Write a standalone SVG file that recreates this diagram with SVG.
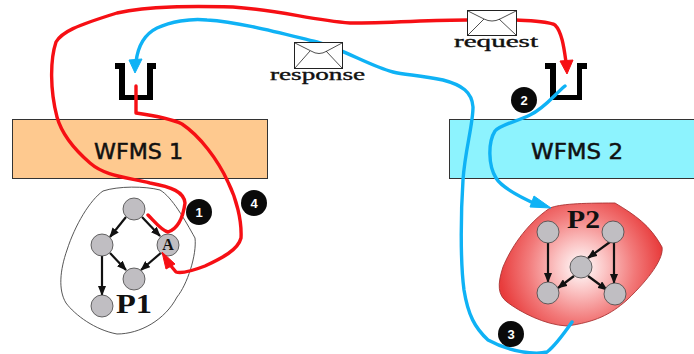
<svg xmlns="http://www.w3.org/2000/svg" width="694" height="354" viewBox="0 0 694 354">
<style>
.box{stroke:#333;stroke-width:1}
.lbl{font-family:"DejaVu Sans",sans-serif;font-size:21px;fill:#111;stroke:#111;stroke-width:.5}
.mono{font-family:"Liberation Serif",serif;fill:#111}
.thin{stroke:#111;stroke-width:.35}
.node{fill:#c0bec2;stroke:#444;stroke-width:.8}
.edge{fill:none;stroke:#111;stroke-width:2.2;marker-end:url(#ah)}
.red{fill:none;stroke:#f60f14;stroke-width:3.4;stroke-linejoin:round;stroke-linecap:round}
.blue{fill:none;stroke:#0fb2f5;stroke-width:3.4;stroke-linejoin:round;stroke-linecap:round}
.env{fill:#fff;stroke:#222;stroke-width:1}
.flap{fill:none;stroke:#222;stroke-width:.8}
.badge{fill:#0a0a0a}
.num{font-family:"Liberation Sans",sans-serif;font-size:13px;font-weight:bold;fill:#fff;text-anchor:middle}
.bucket{fill:#000}
</style>
<defs>
<marker id="ah" viewBox="0 0 10 8" refX="9" refY="4" markerWidth="10" markerHeight="8" markerUnits="userSpaceOnUse" orient="auto"><path d="M0 0L10 4L0 8z" fill="#111"/></marker>
<radialGradient id="p2g" gradientUnits="userSpaceOnUse" cx="581" cy="267" r="82"><stop offset="0" stop-color="#fff"/><stop offset=".3" stop-color="#fbc4c4"/><stop offset=".65" stop-color="#f27a7a"/><stop offset="1" stop-color="#e83c3c"/></radialGradient>
</defs>
<rect width="694" height="354" fill="#fff"/>

<g id="wfms1"><rect class="box" x="12.500" y="119.500" width="255" height="59" fill="#fec98f"/><text class="lbl" x="94" y="159" textLength="89" lengthAdjust="spacingAndGlyphs">WFMS 1</text></g>
<g id="wfms2"><rect class="box" x="449.500" y="119.500" width="245" height="59" fill="#8df3fe"/><text class="lbl" x="531" y="159" textLength="92" lengthAdjust="spacingAndGlyphs">WFMS 2</text></g>

<g id="queue1"><path class="bucket" d="M115 63H125V95H147V63H156V69H153V100H119V69H115Z"/></g>
<g id="queue2"><path class="bucket" d="M545 63H556V95H577V63H587V69H582V100H550V69H545Z"/></g>

<g id="p1">
<path d="M103 191C118 186 145 186 160 190C172 197 185 220 195 238C197 255 187 285 177 297C165 320 140 334 117 334C95 330 75 315 66 303C58 290 60 270 67 250C75 225 90 200 103 191Z" fill="#fff" stroke="#444" stroke-width=".9"/>
<path class="edge" d="M126 217L110 237"/><path class="edge" d="M142 217L160 236"/><path class="edge" d="M110 253L126 270"/><path class="edge" d="M162 252L141 270"/><path class="edge" d="M102 256V295"/>
<circle class="node" cx="134" cy="209" r="11"/><circle class="node" cx="102" cy="245" r="11"/><circle class="node" cx="168" cy="245" r="11"/><circle class="node" cx="134" cy="279" r="11"/><circle class="node" cx="102" cy="306" r="11"/>
<text class="mono" x="168" y="250" font-size="16" font-weight="bold" text-anchor="middle">A</text>
<text class="mono" x="116" y="313" font-size="27" font-weight="bold" textLength="36" lengthAdjust="spacingAndGlyphs">P1</text>
</g>

<g id="p2">
<path d="M550 208C560 204 580 203 615 203C635 215 650 225 662 247C664 258 650 278 627 300C610 315 595 322 567 326C545 325 520 312 507 302C498 295 497 285 503 267C510 250 525 225 550 208Z" fill="url(#p2g)" stroke="#a33" stroke-width=".9"/>
<path class="edge" d="M548 243V282"/><path class="edge" d="M614 242V283"/><path class="edge" d="M610 242L588 258"/><path class="edge" d="M574 276L558 288"/><path class="edge" d="M588 276L607 290"/>
<circle class="node" cx="548" cy="232" r="11"/><circle class="node" cx="613" cy="232" r="11"/><circle class="node" cx="581" cy="267" r="11"/><circle class="node" cx="548" cy="293" r="11"/><circle class="node" cx="615" cy="294" r="11"/>
<text class="mono" x="567" y="228" font-size="25" font-weight="bold" textLength="33" lengthAdjust="spacingAndGlyphs">P2</text>
</g>

<g id="connectors">
<path class="red" d="M136 86V113C150 115 170 118 182 124C200 136 218 160 228 182C236 198 242 220 241 238C238 250 222 258 205 266C192 271 182 274 176 272L166 260"/>
<path d="M162 252L175 264L166 269Z" fill="#f60f14" stroke="#f60f14" stroke-width="1"/>
<path class="red" d="M148 215C155 222 162 231 168 232C177 229 183 218 185 203C184 192 172 187 150 183C125 177 105 176 90 163C75 150 62 135 57 117C50 90 50 60 56 42C62 32 75 26 117 13C150 6 190 6 233 7C280 10 310 20 350 23C390 23 430 20 467 20"/>
<path class="red" d="M516 20C530 21 548 21 555 25C562 32 564 48 566 62"/>
<path d="M560 61L573 60L567 74Z" fill="#f60f14" stroke="#f60f14" stroke-width="1"/>
<path class="blue" d="M565 86C555 94 545 108 530 115C515 122 500 125 495 131C488 142 488 165 496 178C502 188 520 197 538 205"/>
<path d="M534 196L551 208L530 207Z" fill="#0fb2f5" stroke="#0fb2f5" stroke-width="1"/>
<path class="blue" d="M572 322C565 332 556 345 547 352C535 355 510 352 488 340C475 328 468 315 464 290C460 260 461 210 463 180C465 150 473 125 473 107C472 92 462 85 443 80C420 75 405 75 393 72C370 66 345 50 317 42C280 33 240 22 207 20C190 18 170 22 157 28C145 34 138 45 136 62"/>
<path d="M129 60L142 59L135 73Z" fill="#0fb2f5" stroke="#0fb2f5" stroke-width="1"/>
</g>

<g id="response"><rect class="env" x="294.500" y="42.500" width="48" height="26"/><path class="flap" d="M295 43L311 51Q319 56 327 51L342 43M295 68L310 51M342 68L326 51"/><text class="mono thin" x="270" y="80" font-size="16" textLength="95" lengthAdjust="spacingAndGlyphs">response</text></g>
<g id="request"><rect class="env" x="467.500" y="10.500" width="49" height="25"/><path class="flap" d="M468 11L484 19Q492 23 500 19L516 11M468 35L484 19M516 35L499 19"/><text class="mono thin" x="454" y="47" font-size="16" textLength="84" lengthAdjust="spacingAndGlyphs">request</text></g>

<g id="badge1"><circle class="badge" cx="199" cy="212" r="13"/><text class="num" x="199" y="217">1</text></g>
<g id="badge2"><circle class="badge" cx="524" cy="100" r="13"/><text class="num" x="524" y="105">2</text></g>
<g id="badge3"><circle class="badge" cx="511" cy="334" r="13"/><text class="num" x="511" y="339">3</text></g>
<g id="badge4"><circle class="badge" cx="254" cy="203" r="13"/><text class="num" x="254" y="208">4</text></g>
</svg>
